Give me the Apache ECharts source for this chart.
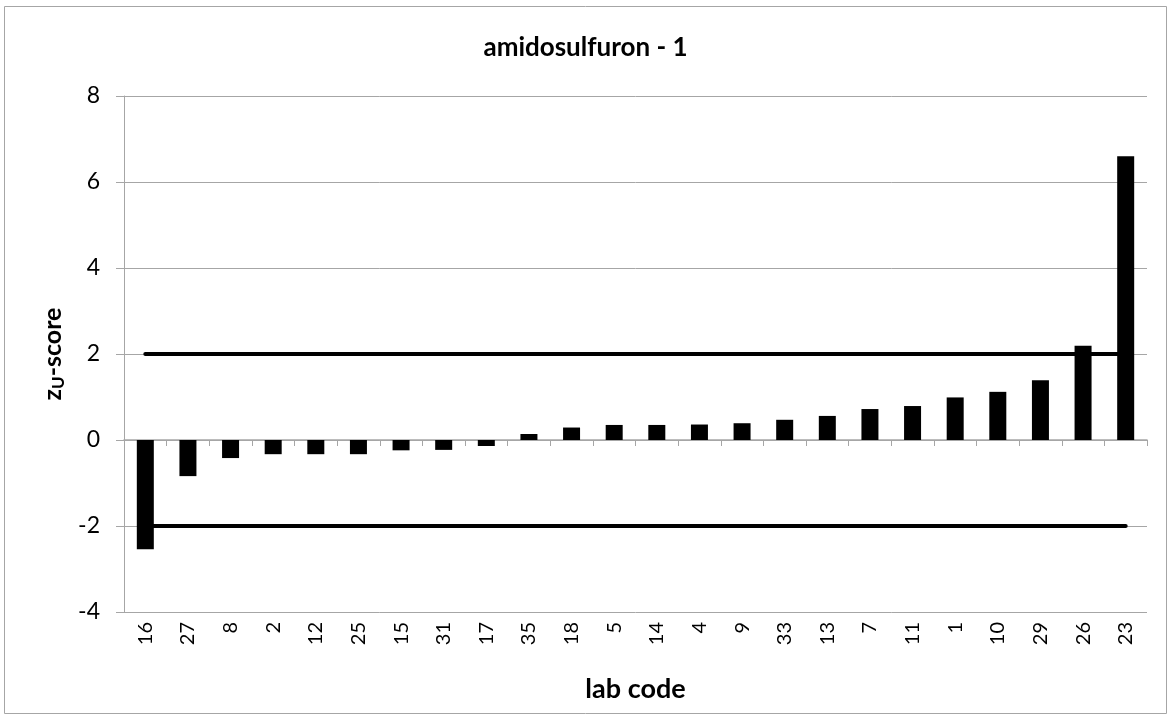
<!DOCTYPE html>
<html>
<head>
<meta charset="utf-8">
<script src="https://cdn.jsdelivr.net/npm/echarts@6/dist/echarts.min.js"></script>
<style>
  html, body { margin: 0; padding: 0; background: #fff; }
  #chart { width: 1171px; height: 719px; }
</style>
</head>
<body>
<div id="chart"></div>
<script>
  // lab codes, sorted by score as in the report
  var labCodes = ["16", "27", "8", "2", "12", "25", "15", "31", "17", "35", "18", "5",
                  "14", "4", "9", "33", "13", "7", "11", "1", "10", "29", "26", "23"];
  var zScores = [-2.54, -0.84, -0.42, -0.33, -0.33, -0.33, -0.24, -0.23, -0.14, 0.14, 0.29, 0.35,
                 0.35, 0.36, 0.39, 0.47, 0.56, 0.72, 0.79, 0.99, 1.12, 1.39, 2.19, 6.60];
  var yTicks = { min: -4, max: 8, step: 2 };
  var limits = [2, -2];

  var FONT = "Lato, 'Open Sans', sans-serif";
  var chart = echarts.init(document.getElementById("chart"));

  function limitLine(v) {
    return [{ coord: [labCodes[0], v] }, { coord: [labCodes[labCodes.length - 1], v] }];
  }

  chart.setOption({
    animation: false,
    backgroundColor: "#fff",
    textStyle: { fontFamily: FONT, color: "#000" },
    title: {
      text: "amidosulfuron - 1",
      left: "center", top: 30,
      textStyle: { fontFamily: FONT, fontSize: 26, fontWeight: "bold", color: "#000" }
    },
    graphic: [{
      type: "rect", silent: true,
      shape: { x: 4.5, y: 6.5, width: 1162, height: 707 },
      style: { fill: null, stroke: "#a6a6a6", lineWidth: 1 }
    }],
    grid: { left: 124, right: 24, top: 96, bottom: 107 },
    xAxis: [{
      type: "category", data: labCodes,
      axisLine: { onZero: true, lineStyle: { color: "#a6a6a6", width: 1.5 } },
      axisTick: { show: true, length: 6, lineStyle: { color: "#a6a6a6" } },
      axisLabel: { show: false },
      splitLine: { show: false }
    }, {
      type: "category", data: labCodes, position: "bottom",
      axisLine: { onZero: false, show: false },
      axisTick: { show: false },
      axisLabel: { rotate: 90, margin: 10, fontSize: 20, color: "#000", fontFamily: FONT },
      name: "lab code", nameLocation: "middle", nameGap: 64,
      nameTextStyle: { fontSize: 27, fontWeight: "bold", color: "#000", fontFamily: FONT }
    }],
    yAxis: {
      type: "value", min: yTicks.min, max: yTicks.max, interval: yTicks.step,
      axisLine: { show: true, lineStyle: { color: "#a6a6a6" } },
      axisTick: { show: true, length: 8, lineStyle: { color: "#a6a6a6" } },
      axisLabel: { fontSize: 23, color: "#000", margin: 24, fontFamily: FONT },
      splitLine: { lineStyle: { color: "#a6a6a6", width: 1 } },
      name: "{a|z}{b|U}{a|-score}", nameLocation: "middle", nameGap: 56, nameRotate: 90,
      nameTextStyle: {
        rich: {
          a: { fontSize: 25, fontWeight: "bold", color: "#000", fontFamily: FONT },
          b: { fontSize: 17, fontWeight: "bold", color: "#000", fontFamily: FONT, padding: [12, 0, 0, 0] }
        }
      }
    },
    series: [{
      type: "bar", data: zScores, barWidth: 17, xAxisIndex: 0,
      itemStyle: { color: "#000" },
      z: 3,
      markLine: {
        silent: true, symbol: ["none", "none"], z: 2,
        label: { show: false },
        lineStyle: { color: "#000", width: 4, type: "solid", cap: "round" },
        data: limits.map(limitLine)
      }
    }]
  });
</script>
</body>
</html>
